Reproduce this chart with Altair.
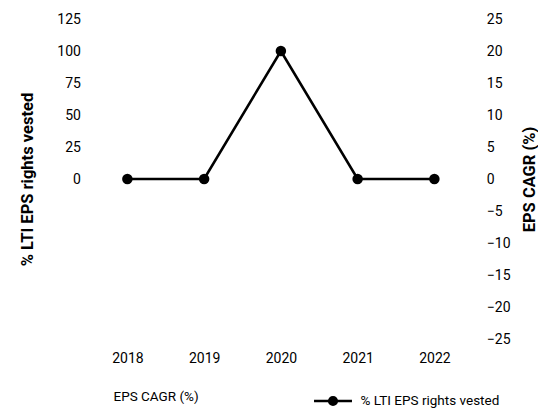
import altair as alt
import pandas as pd

years = ["2018", "2019", "2020", "2021", "2022"]
lti_vested = [0, 0, 100, 0, 0]
eps_cagr = [None, None, None, None, None]
left_ticks = [0, 25, 50, 75, 100, 125]
right_ticks = [-25, -20, -15, -10, -5, 0, 5, 10, 15, 20, 25]

df = pd.DataFrame({"year": years, "lti": lti_vested, "eps": eps_cagr})

FONT = "Roboto"
sym_path = ("M-3,0H3M-0.6,0A0.6,0.6,0,1,1,0.6,0"
            "A0.6,0.6,0,1,1,-0.6,0Z")

base = alt.Chart(df)

x_enc = alt.X(
    "year:O",
    scale=alt.Scale(type="point", padding=0.5),
    axis=alt.Axis(title=None, labelAngle=0, domain=False, ticks=False,
                  labelPadding=12, labelFont=FONT, labelFontSize=14,
                  labelColor="#000"),
)

bars = base.mark_bar().encode(
    x=x_enc,
    y=alt.Y(
        "eps:Q",
        scale=alt.Scale(domain=[-25, 25], nice=False, zero=False),
        axis=alt.Axis(orient="right", values=right_ticks, grid=False,
                      domain=False, ticks=False, labelPadding=13.6,
                      title="EPS CAGR (%)", titleAngle=270,
                      titlePadding=27, titleFont=FONT, titleFontSize=16.5,
                      titleFontWeight="bold", labelFont=FONT,
                      labelFontSize=14, labelColor="#000",
                      titleColor="#000"),
    ),
    fill=alt.Fill(
        "s1:N",
        scale=alt.Scale(domain=["EPS CAGR (%)"], range=["transparent"]),
        legend=alt.Legend(title=None, orient="none", legendX=7,
                          legendY=371, padding=0, symbolSize=0,
                          labelFont=FONT, labelFontSize=13.5,
                          labelColor="#000", labelOffset=4),
    ),
).transform_calculate(s1="'EPS CAGR (%)'")

line = base.mark_line(
    point=alt.OverlayMarkDef(filled=True, size=110, color="black"),
    strokeWidth=2.6,
).encode(
    x=x_enc,
    y=alt.Y(
        "lti:Q",
        scale=alt.Scale(domain=[-125, 125], nice=False, zero=False),
        axis=alt.Axis(orient="left", values=left_ticks, grid=False,
                      domain=False, ticks=False, labelPadding=8.6,
                      title="% LTI EPS rights vested", titlePadding=21,
                      titleFont=FONT, titleFontSize=16.5,
                      titleFontWeight="bold", labelFont=FONT,
                      labelFontSize=14, labelColor="#000",
                      titleColor="#000"),
    ),
    color=alt.Color(
        "s2:N",
        scale=alt.Scale(domain=["% LTI EPS rights vested"], range=["black"]),
        legend=alt.Legend(title=None, orient="none", legendX=236,
                          legendY=374, padding=0, symbolType=sym_path,
                          symbolSize=160, symbolStrokeWidth=2.6,
                          symbolFillColor="black", symbolStrokeColor="black",
                          labelFont=FONT, labelFontSize=13.5,
                          labelColor="#000", labelOffset=19.6),
    ),
).transform_calculate(s2="'% LTI EPS rights vested'")

chart = alt.layer(bars, line).resolve_scale(
    y="independent", fill="independent", color="independent"
).properties(
    width=383.75, height=320,
    padding={"left": 11, "top": 4, "right": 0, "bottom": 0},
).configure_view(stroke=None)

chart.save("out.html", embed_options={"renderer": "svg", "actions": False})
